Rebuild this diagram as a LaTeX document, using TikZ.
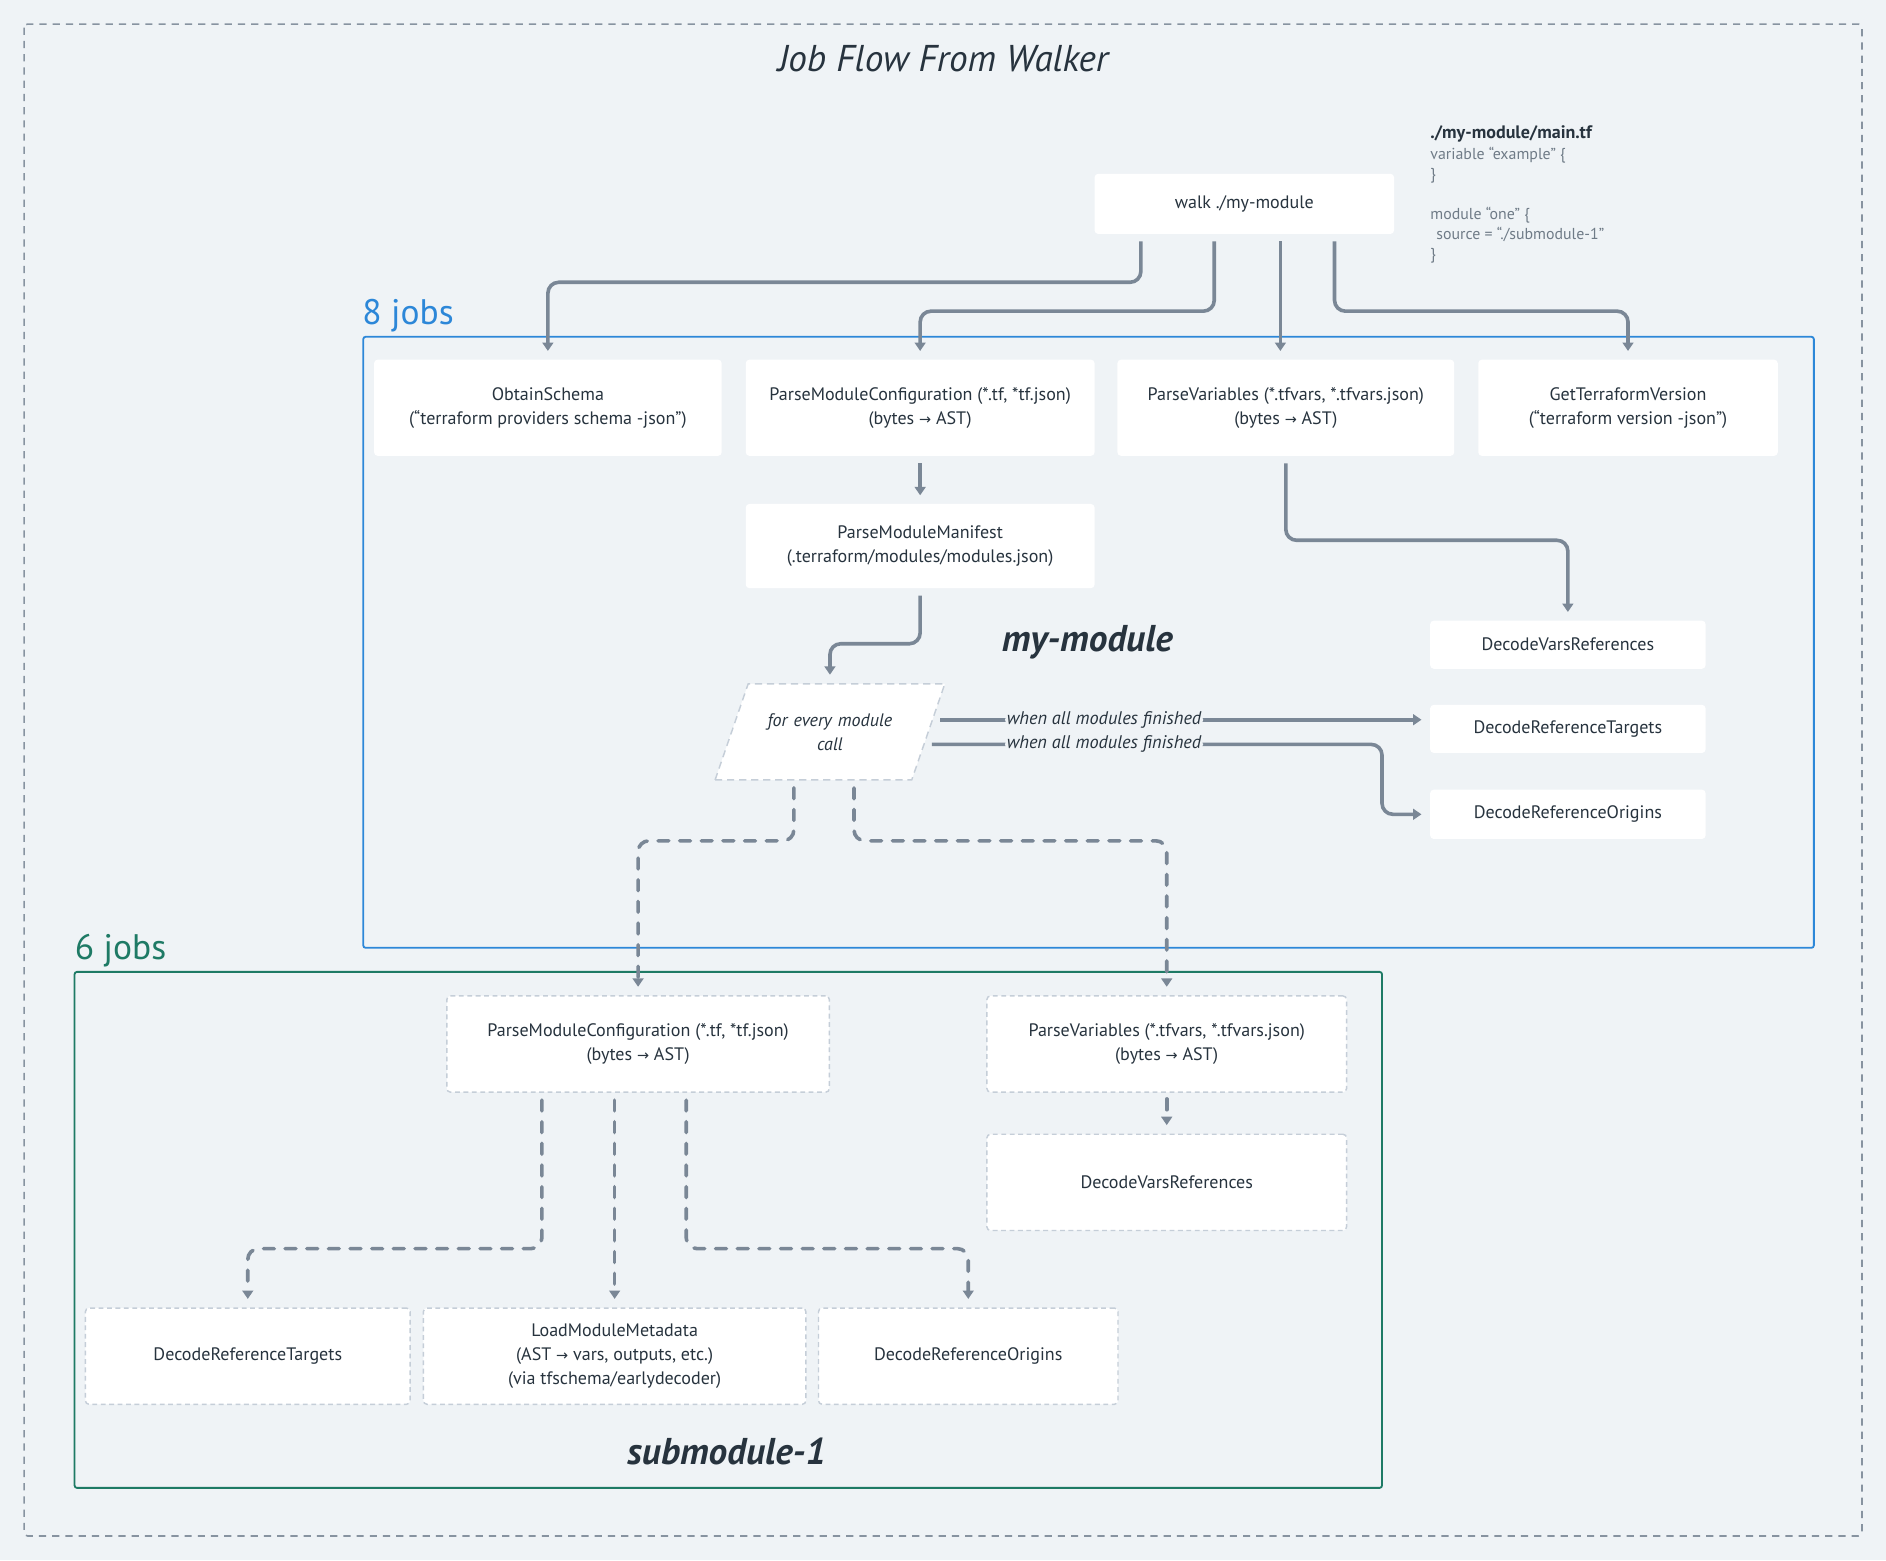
\documentclass[tikz,border=0pt]{standalone}
\usepackage{fontspec}
\setmainfont{PT Sans}
\newfontfamily\symf{DejaVu Sans}
\usetikzlibrary{arrows.meta, shapes.geometric, positioning, calc}
\definecolor{bgc}  {HTML}{EFF3F6}
\definecolor{ink}  {HTML}{27333E}
\definecolor{conn} {HTML}{7A8796}
\definecolor{codeg}{HTML}{6F7B87}
\definecolor{dashc}{HTML}{C5CED8}
\definecolor{oblue}{HTML}{2C87D8}
\definecolor{ogrn} {HTML}{1E7A65}
\newcommand{\rarr}{{\symf\fontsize{12}{12}\selectfont →}}
\tikzset{
  % plain job box
  JB/.style={rectangle,rounded corners=3pt,fill=white,draw=none,
             minimum width=#1,minimum height=80pt,align=center,text=ink,
             font=\fontsize{15}{20}\selectfont,inner sep=2pt},
  JB/.default=290pt,
  % job box of the submodule
  SB/.style={JB=#1,draw=dashc,line width=1.2pt,dash pattern=on 4pt off 3pt},
  SB/.default=300pt,
  % loop over module calls
  LP/.style={trapezium,trapezium left angle=71,trapezium right angle=109,
             fill=white,draw=dashc,line width=1.2pt,
             dash pattern=on 6pt off 4pt,text width=110pt,
             inner xsep=13pt,inner ysep=24.5pt,
             align=center,text=ink,font=\fontsize{15}{20}\selectfont\itshape},
  % frame labels and captions
  FL/.style={font=\fontsize{29.5}{30}\selectfont,anchor=base west,inner sep=0pt},
  CP/.style={font=\fontsize{31}{32}\selectfont\bfseries\itshape,text=ink},
  Lbl/.style={fill=bgc,font=\fontsize{15.2}{16}\selectfont\itshape,text=ink,
              inner sep=1.5pt},
  % connectors
  Arr/.style ={-{Triangle[length=7pt,width=9pt]},line width=3pt,color=conn,
               rounded corners=9pt,shorten <=6pt,shorten >=7pt},
  DArr/.style={Arr,line cap=round,dash pattern=on 9pt off 9pt},
}
\begin{document}
\begin{tikzpicture}[x=1pt,y=-1pt]
  \fill[bgc] (0,0) rectangle (1568,1297);
  \useasboundingbox (0,0) rectangle (1568,1297);
  \draw[conn!90,line width=1.3pt,dash pattern=on 6pt off 5pt,rounded corners=3pt]
        (20,20) rectangle (1548,1277);
  \node[font=\fontsize{31}{32}\selectfont\itshape,text=ink] at (784,49) (ttl)
        {Job Flow From Walker};
  \node[anchor=north west,align=left,text=codeg,inner sep=0pt,
        font=\fontsize{13.2}{16.5}\selectfont] at (1189,104) (code)
        {{\fontsize{15}{16.5}\selectfont\bfseries\color{ink}./my-module/main.tf}\\[1.5pt]
         variable “example” \{\\
         \}\\[16.5pt]
         module “one” \{\\
         \hspace*{5pt}source = “./submodule-1”\\
         \}};
  % frames
  \draw[oblue,line width=1.5pt,rounded corners=2pt] (302,280) rectangle (1508,788);
  \node[FL,text=oblue] at (301,269.5) (n8) {8 jobs};
  \draw[ogrn,line width=1.5pt,rounded corners=2pt] (62,808) rectangle (1149,1237);
  \node[FL,text=ogrn] at (62,798) (n6) {6 jobs};
  \node[CP] at (904,534) (cmain) {my-module};
  \node[CP] at (604,1207) (csub) {submodule-1};
  % my-module jobs
  \node[JB=249pt,minimum height=50pt] at (1034.5,169.5) (walk) {walk ./my-module};
  \node[JB=289pt] at (455.5,339) (obs)
        {ObtainSchema\\(“terraform providers schema -json")};
  \node[JB=290pt] at (765,339) (pmc)
        {ParseModuleConfiguration (*.tf, *tf.json)\\(bytes \rarr{} AST)};
  \node[JB=280pt] at (1069,339) (pvr)
        {ParseVariables (*.tfvars, *.tfvars.json)\\(bytes \rarr{} AST)};
  \node[JB=249pt] at (1353.5,339) (gtv)
        {GetTerraformVersion\\(“terraform version -json")};
  \node[JB=290pt,minimum height=70pt] at (765,454) (pmm)
        {ParseModuleManifest\\(.terraform/modules/modules.json)};
  \node[LP] at (690,608.5) (loop) {for every module\\call};
  \node[JB=229pt,minimum height=40pt] at (1303.5,536) (dvr) {DecodeVarsReferences};
  \node[JB=229pt,minimum height=40pt] at (1303.5,606) (drt) {DecodeReferenceTargets};
  \node[JB=229pt,minimum height=41pt] at (1303.5,677) (dro) {DecodeReferenceOrigins};
  % submodule-1 jobs
  \node[SB=318pt] at (530.5,868) (spmc)
        {ParseModuleConfiguration (*.tf, *tf.json)\\(bytes \rarr{} AST)};
  \node[SB=299pt] at (970,868) (spvr)
        {ParseVariables (*.tfvars, *.tfvars.json)\\(bytes \rarr{} AST)};
  \node[SB=299pt] at (970,983) (sdvr) {DecodeVarsReferences};
  \node[SB=270pt] at (206,1127.5) (sdrt) {DecodeReferenceTargets};
  \node[SB=318pt] at (511,1127.5) (slmm)
        {LoadModuleMetadata\\(AST \rarr{} vars, outputs, etc.)\\(via tfschema/earlydecoder)};
  \node[SB=249pt] at (805,1127.5) (sdro) {DecodeReferenceOrigins};
  % walker fan-out
  \draw[Arr] ([xshift=-86pt]walk.south) -- ++(0,40) -| (obs.north);
  \draw[Arr] ([xshift=-25pt]walk.south) -- ++(0,64) -| (pmc.north);
  \draw[Arr] ([xshift=30pt]walk.south) -- ([xshift=30pt]walk.south |- pvr.north);
  \draw[Arr] ([xshift=75pt]walk.south) -- ++(0,64) -| (gtv.north);
  \draw[Arr] (pmc) -- (pmm);
  \draw[Arr] (pmm.south) -- ++(0,46) -| (loop.center |- loop.north);
  \draw[Arr] (pvr.south) -- ++(0,70) -| (dvr.north);
  \coordinate (fa) at ($(loop.top right corner)!0.375!(loop.bottom right corner)$);
  \coordinate (fb) at ($(loop.top right corner)!0.628!(loop.bottom right corner)$);
  \draw[Arr] (fa) -- node[Lbl,pos=0.344] {when all modules finished} (fa -| drt.west);
  \draw[Arr] (fb) -- node[Lbl,pos=0.392] {when all modules finished} (fb -| 1149,0)
        |- (dro.west);
  % into submodule-1
  \draw[DArr] ([xshift=-30pt]loop.center |- loop.south) -- ++(0,50) -| (spmc.north);
  \draw[DArr] ([xshift=20pt]loop.center |- loop.south) -- ++(0,50) -| (spvr.north);
  \draw[DArr,shorten <=5pt] (spvr) -- (sdvr);
  \draw[DArr] ([xshift=-80pt]spmc.south) -- ++(0,129.5) -| (sdrt.north);
  \draw[DArr] (spmc.south -| slmm.north) -- (slmm.north);
  \draw[DArr] ([xshift=40pt]spmc.south) -- ++(0,129.5) -| (sdro.north);
\end{tikzpicture}
\end{document}
